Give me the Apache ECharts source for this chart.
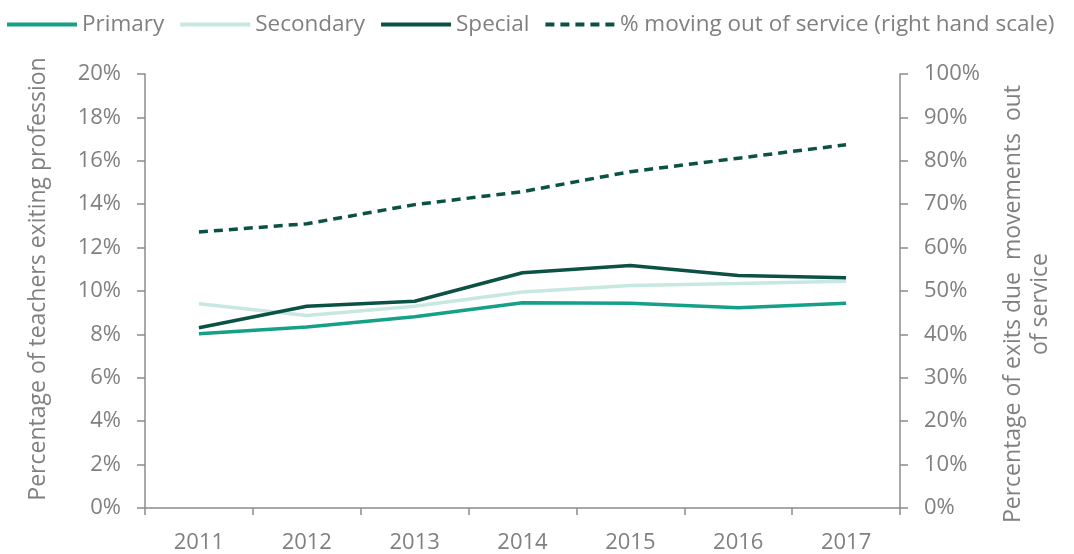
<!DOCTYPE html>
<html>
<head>
<meta charset="utf-8">
<script src="https://cdn.jsdelivr.net/npm/echarts@6/dist/echarts.min.js"></script>
<style>
  html, body { margin: 0; padding: 0; background: #fff; }
  #chart { width: 1074px; height: 554px; }
</style>
</head>
<body>
<div id="chart"></div>
<script>
// values (percent)
const years = ['2011', '2012', '2013', '2014', '2015', '2016', '2017'];
const primary = [8.03, 8.34, 8.81, 9.46, 9.43, 9.23, 9.43];
const secondary = [9.41, 8.87, 9.30, 9.95, 10.25, 10.34, 10.45];
const special = [8.31, 9.30, 9.53, 10.84, 11.17, 10.71, 10.61];
const movingOut = [63.6, 65.5, 69.9, 72.9, 77.5, 80.6, 83.7];

const grey = '#808080';
const axisColor = '#8c8c8c';
const font = 'Open Sans';
const fs = 22;

// legend icons: plain bar, and a dashed bar for the right-hand series
const solidIcon = 'path://M0,0L70,0L70,4L0,4Z';
const dashIcon = 'path://M0,0L9,0L9,4L0,4Z M15,0L24,0L24,4L15,4Z M30,0L39,0L39,4L30,4Z M45,0L54,0L54,4L45,4Z M60,0L69,0L69,4L60,4Z';

const chart = echarts.init(document.getElementById('chart'));

const option = {
  animation: false,
  textStyle: { fontFamily: font },
  legend: {
    top: 13,
    left: 7,
    width: 1066,
    padding: 0,
    itemWidth: 70,
    itemHeight: 4,
    itemGap: 16,
    textStyle: { color: grey, fontSize: 22.5, fontFamily: font },
    data: [
      { name: 'Primary', icon: solidIcon },
      { name: 'Secondary', icon: solidIcon },
      { name: 'Special', icon: solidIcon },
      { name: '% moving out of service (right hand scale)', icon: dashIcon }
    ]
  },
  grid: { left: 145, right: 174, top: 74, bottom: 45 },
  xAxis: {
    type: 'category',
    data: years,
    boundaryGap: true,
    axisLine: { lineStyle: { color: axisColor, width: 1.5 } },
    axisTick: { show: true, length: 7, lineStyle: { color: axisColor, width: 1.5 } },
    axisLabel: { color: grey, fontSize: fs, margin: 24, fontFamily: font }
  },
  yAxis: [
    {
      type: 'value',
      min: 0, max: 20, interval: 2,
      name: 'Percentage of teachers exiting profession',
      nameLocation: 'middle',
      nameGap: 95,
      nameRotate: 90,
      nameTextStyle: { color: grey, fontSize: 23, fontFamily: font, padding: [0, 0, 0, 24] },
      axisLine: { show: true, lineStyle: { color: axisColor, width: 1.5 } },
      axisTick: { show: true, length: 8, lineStyle: { color: axisColor, width: 1.5 } },
      axisLabel: { color: grey, fontSize: fs, margin: 24, formatter: '{value}%', fontFamily: font },
      splitLine: { show: false }
    },
    {
      type: 'value',
      position: 'right',
      min: 0, max: 100, interval: 10,
      name: 'Percentage of exits due  movements  out\nof service',
      nameLocation: 'middle',
      nameGap: 100,
      nameRotate: 90,
      nameTextStyle: { color: grey, fontSize: 23, fontFamily: font, lineHeight: 27, align: 'center', padding: [0, 26, 0, 0] },
      axisLine: { show: true, lineStyle: { color: axisColor, width: 1.5 } },
      axisTick: { show: true, length: 8, lineStyle: { color: axisColor, width: 1.5 } },
      axisLabel: { color: grey, fontSize: fs, margin: 24, formatter: '{value}%', fontFamily: font },
      splitLine: { show: false }
    }
  ],
  series: [
    {
      name: 'Primary', type: 'line', data: primary, yAxisIndex: 0,
      symbol: 'none', color: '#15a088',
      lineStyle: { width: 3.5, color: '#15a088' }
    },
    {
      name: 'Secondary', type: 'line', data: secondary, yAxisIndex: 0,
      symbol: 'none', color: '#c6e8e0',
      lineStyle: { width: 3.5, color: '#c6e8e0' }
    },
    {
      name: 'Special', type: 'line', data: special, yAxisIndex: 0,
      symbol: 'none', color: '#0b5144',
      lineStyle: { width: 3.5, color: '#0b5144' }
    },
    {
      name: '% moving out of service (right hand scale)', type: 'line', data: movingOut, yAxisIndex: 1,
      symbol: 'none', color: '#0b5144',
      lineStyle: { width: 3.5, color: '#0b5144', type: [9, 6] }
    }
  ]
};

chart.setOption(option);
</script>
</body>
</html>
